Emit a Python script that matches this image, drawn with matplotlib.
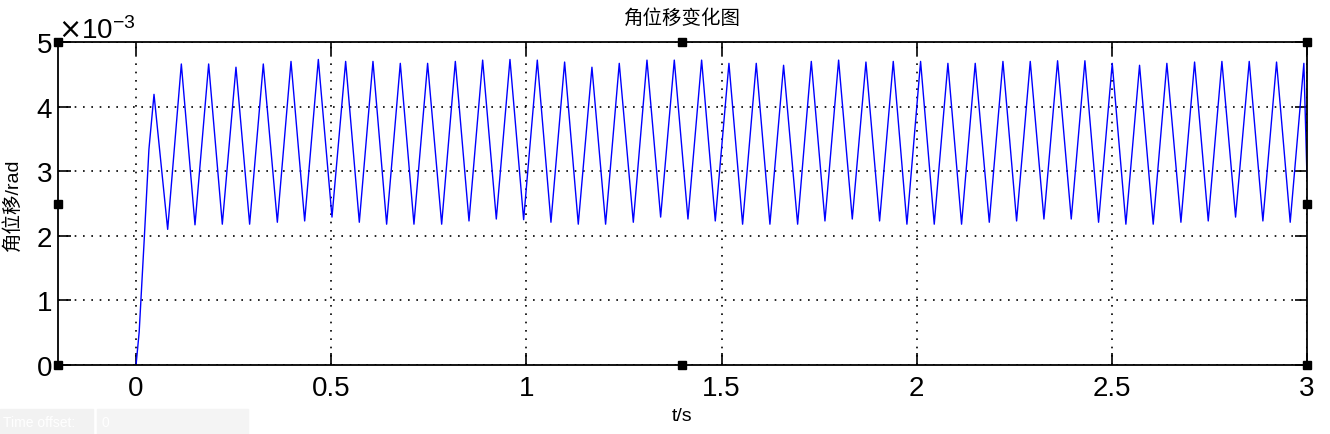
import matplotlib
matplotlib.use('Agg')
import matplotlib.pyplot as plt
from matplotlib.ticker import ScalarFormatter
from matplotlib.patches import Rectangle

plt.rcParams['font.family'] = ['Liberation Sans', 'Noto Sans CJK SC', 'DejaVu Sans']
plt.rcParams['axes.unicode_minus'] = False

# start-up ramp (t in s, value in 1e-3 rad)
ramp_t = [0.0, 0.008, 0.021, 0.033]
ramp_v = [0.0, 0.51, 1.95, 3.34]

# peaks of the oscillation
peak_t = [0.046, 0.116, 0.186, 0.256, 0.326, 0.397, 0.467, 0.537, 0.607, 0.677,
          0.747, 0.818, 0.888, 0.958, 1.028, 1.098, 1.168, 1.238, 1.309, 1.379,
          1.449, 1.519, 1.589, 1.659, 1.730, 1.800, 1.870, 1.940, 2.010, 2.080,
          2.150, 2.221, 2.291, 2.361, 2.431, 2.501, 2.571, 2.641, 2.712, 2.782,
          2.852, 2.922, 2.992]
peak_v = [4.19, 4.66, 4.66, 4.61, 4.66, 4.70, 4.73, 4.70, 4.70, 4.67,
          4.67, 4.70, 4.72, 4.73, 4.72, 4.69, 4.61, 4.67, 4.72, 4.72,
          4.72, 4.67, 4.67, 4.64, 4.70, 4.72, 4.69, 4.70, 4.70, 4.67,
          4.67, 4.70, 4.70, 4.71, 4.71, 4.67, 4.64, 4.67, 4.69, 4.70,
          4.70, 4.69, 4.67]

# troughs between peaks
trough_t = [0.081, 0.151, 0.221, 0.291, 0.362, 0.432, 0.502, 0.572, 0.642, 0.712,
            0.783, 0.853, 0.923, 0.993, 1.063, 1.133, 1.203, 1.274, 1.344, 1.414,
            1.484, 1.554, 1.624, 1.695, 1.765, 1.835, 1.905, 1.975, 2.045, 2.115,
            2.186, 2.256, 2.326, 2.396, 2.466, 2.536, 2.606, 2.677, 2.747, 2.817,
            2.887, 2.957]
trough_v = [2.10, 2.17, 2.18, 2.18, 2.21, 2.23, 2.29, 2.21, 2.18, 2.18,
            2.18, 2.23, 2.26, 2.25, 2.21, 2.18, 2.18, 2.21, 2.29, 2.26,
            2.23, 2.18, 2.18, 2.18, 2.23, 2.26, 2.23, 2.18, 2.18, 2.18,
            2.21, 2.23, 2.26, 2.26, 2.21, 2.18, 2.18, 2.21, 2.23, 2.29,
            2.23, 2.21]

end_t = [3.0]
end_v = [2.9]

x_ticks = [0, 0.5, 1, 1.5, 2, 2.5, 3]
x_ticklabels = ['0', '0.5', '1', '1.5', '2', '2.5', '3']
y_ticks = [0, 1, 2, 3, 4, 5]

# build the line: ramp, then alternating peak / trough, then the end point
t = list(ramp_t)
v = list(ramp_v)
for i in range(len(peak_t)):
    t.append(peak_t[i])
    v.append(peak_v[i])
    if i < len(trough_t):
        t.append(trough_t[i])
        v.append(trough_v[i])
t += end_t
v += end_v
v = [x * 1e-3 for x in v]

fig = plt.figure(figsize=(13.3, 4.35), dpi=100)
ax = fig.add_axes([0.0436, 0.1586, 0.9391, 0.7425])

ax.plot(t, v, color='#0000ff', lw=1.0)

ax.set_xlim(-0.2, 3)
ax.set_ylim(0, 5e-3)
ax.set_xticks(x_ticks)
ax.set_xticklabels(x_ticklabels)
ax.set_yticks([y * 1e-3 for y in y_ticks])

fmt = ScalarFormatter(useMathText=True)
fmt.set_powerlimits((-2, 2))
ax.yaxis.set_major_formatter(fmt)
ax.yaxis.get_offset_text().set_fontsize(20)

ax.tick_params(direction='in', length=9, width=1.2, top=True, right=True,
               labelsize=20)
ax.tick_params(axis='x', pad=7)
ax.tick_params(axis='y', pad=4)
for s in ax.spines.values():
    s.set_linewidth(1.3)

ax.grid(True, linestyle=(0, (1, 4)), color='black', lw=1.2)

ax.set_title('角位移变化图', fontsize=14, pad=14)
ax.set_xlabel('t/s', fontsize=14)
ax.set_ylabel('角位移/rad', fontsize=14)
ax.xaxis.set_label_coords(0.5, -0.13)
ax.yaxis.set_label_coords(-0.029, 0.5)

# selection handles drawn by the figure window
hx = [0, 0.5, 1, 0, 1, 0, 0.5, 1]
hy = [1, 1, 1, 0.5, 0.5, 0, 0, 0]
ax.plot(hx, hy, 's', color='black', ms=6, transform=ax.transAxes,
        clip_on=False, zorder=5)

# faint status box at the bottom left
fig.patches.append(Rectangle((0, 0), 93 / 1330, 25 / 435, transform=fig.transFigure,
                             color='#f2f2f2', zorder=0))
fig.patches.append(Rectangle((97 / 1330, 0), 151 / 1330, 25 / 435,
                             transform=fig.transFigure, color='#f4f4f4', zorder=0))
fig.text(3 / 1330, 12 / 435, 'Time offset:', fontsize=10, color='white', va='center')
fig.text(101 / 1330, 12 / 435, '0', fontsize=10, color='white', va='center')

fig.savefig('out.png', dpi=100)
